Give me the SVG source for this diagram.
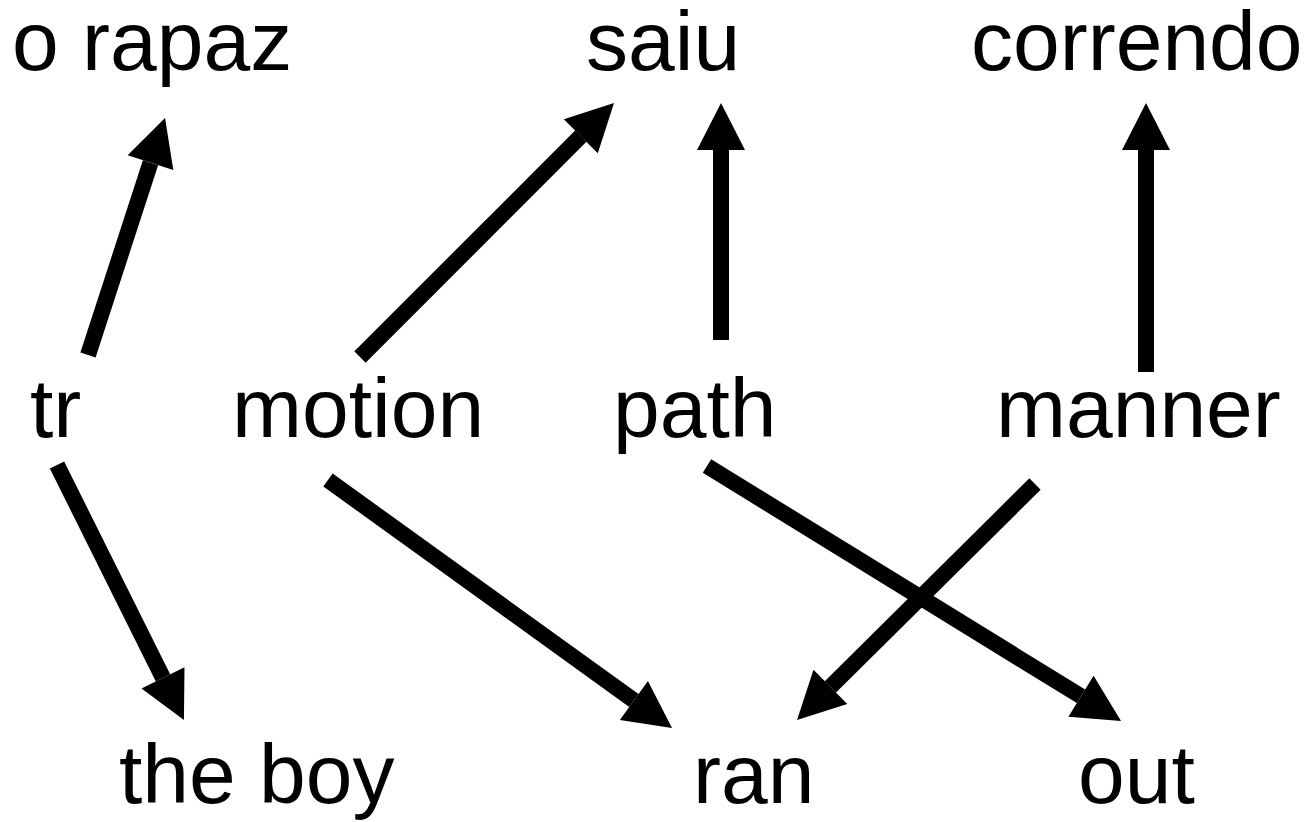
<svg xmlns="http://www.w3.org/2000/svg" width="1313" height="822" viewBox="0 0 1313 822">
<style>
text{font-family:"Liberation Sans",Arial,sans-serif;font-size:84px;fill:#000}
.c{stroke:#000;stroke-width:16;fill:none;marker-end:url(#ah)}
</style>
<defs>
<marker id="ah" markerUnits="userSpaceOnUse" markerWidth="48" markerHeight="48" viewBox="0 0 48 48" refX="0" refY="24" orient="auto" overflow="visible">
<path d="M0,0 L47,24 L0,48 Z" fill="#000"/>
</marker>
</defs>
<rect width="1313" height="822" fill="#fff"/>
<g id="connectors">
<line class="c" x1="88" y1="355" x2="150.5" y2="162.7"/>
<line class="c" x1="360" y1="357" x2="580.8" y2="136.2"/>
<line class="c" x1="721" y1="340" x2="721" y2="150"/>
<line class="c" x1="1146" y1="372" x2="1146" y2="150"/>
<line class="c" x1="57" y1="465" x2="163" y2="677.9"/>
<line class="c" x1="328" y1="480" x2="633.9" y2="700.5"/>
<line class="c" x1="707" y1="466" x2="1081" y2="696.3"/>
<line class="c" x1="1035" y1="484" x2="830.4" y2="686.9"/>
</g>
<g id="n-orapaz"><text x="12" y="70">o rapaz</text></g>
<g id="n-saiu"><text x="586" y="70">saiu</text></g>
<g id="n-correndo"><text x="971" y="70">correndo</text></g>
<g id="n-tr"><text x="30" y="437">tr</text></g>
<g id="n-motion"><text x="232" y="437">motion</text></g>
<g id="n-path"><text x="613" y="437">path</text></g>
<g id="n-manner"><text x="996" y="437">manner</text></g>
<g id="n-theboy"><text x="119" y="803">the boy</text></g>
<g id="n-ran"><text x="693" y="803">ran</text></g>
<g id="n-out"><text x="1078" y="803">out</text></g>
</svg>
